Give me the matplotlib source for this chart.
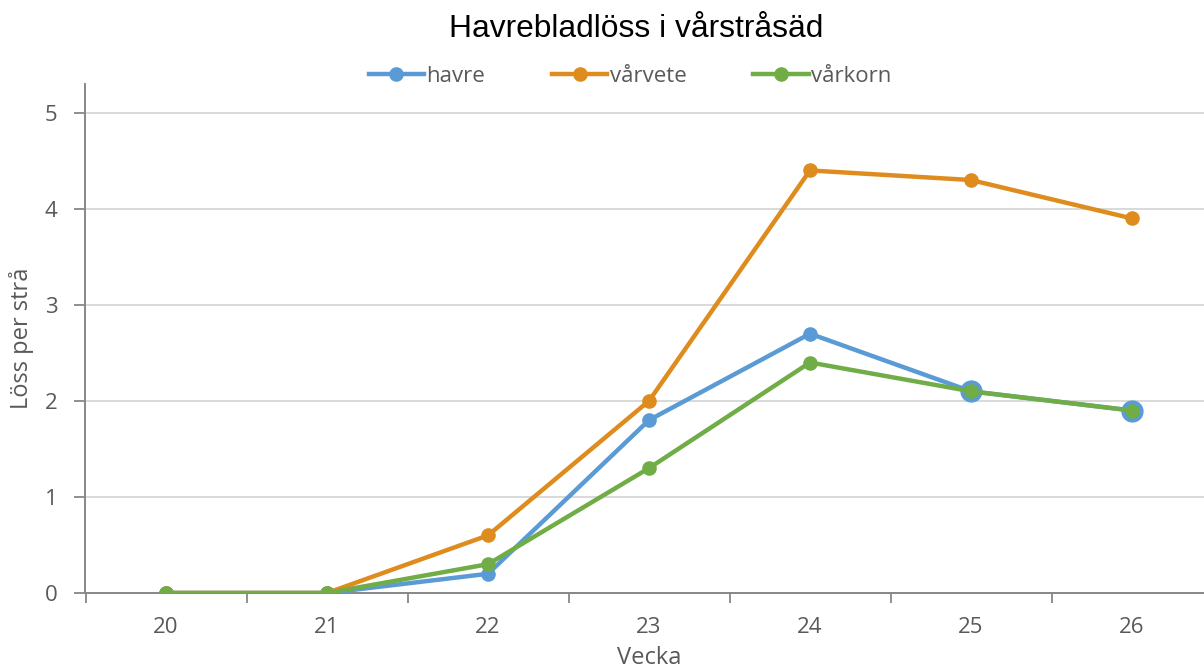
import matplotlib
matplotlib.use("Agg")
import matplotlib.pyplot as plt
import numpy as np

# data
weeks = ["20", "21", "22", "23", "24", "25", "26"]
havre = [0, 0, 0.2, 1.8, 2.7, 2.1, 1.9]
varvete = [0, 0, 0.6, 2.0, 4.4, 4.3, 3.9]
varkorn = [0, 0, 0.3, 1.3, 2.4, 2.1, 1.9]

blue = "#5B9BD5"
orange = "#DF8C1E"
green = "#70AD47"
grey_txt = "#595959"

plt.rcParams['font.family'] = ['Open Sans', 'DejaVu Sans']

fig = plt.figure(figsize=(12.04, 6.72), dpi=100, facecolor="w")
ax = fig.add_axes([85.5 / 1204, 79 / 672, 1127 / 1204, 509 / 672])

x = np.arange(len(weeks))
lw, ms = 3.2, 9.5
ax.plot(x, havre, '-o', c=blue, lw=lw, ms=ms, label='havre', zorder=3)
ax.plot(x[5:], havre[5:], 'o', c=blue, ms=15, zorder=3)
ax.plot(x, varvete, '-o', c=orange, lw=lw, ms=ms, label='vårvete', zorder=4)
ax.plot(x, varkorn, '-o', c=green, lw=lw, ms=ms, label='vårkorn', zorder=5)

ax.set_xlim(-0.5, len(weeks) - 0.5)
ax.set_ylim(0, 5.3)
ax.set_yticks(range(6))
ax.set_xticks(x)
ax.set_xticklabels(weeks)
ax.set_xticks(np.arange(-0.5, len(weeks)), minor=True)
ax.tick_params(axis='x', which='major', length=0, pad=17,
               labelsize=16, labelcolor=grey_txt)
ax.tick_params(axis='x', which='minor', length=7, width=1.3, color="#878787")
ax.tick_params(axis='y', length=8, width=1.3, color="#878787", pad=12,
               labelsize=16, labelcolor=grey_txt)

ax.grid(axis='y', color="#D9D9D9", lw=1.4, zorder=0)
ax.set_axisbelow(True)
for s in ['top', 'right']:
    ax.spines[s].set_visible(False)
for s in ['left', 'bottom']:
    ax.spines[s].set_color("#878787")
    ax.spines[s].set_linewidth(1.4)

ax.set_xlabel("Vecka", fontsize=17, color=grey_txt, labelpad=6)
ax.set_ylabel("Löss per strå", fontsize=17, color=grey_txt, labelpad=8)

fig.text(0.528, 1 - 37 / 672, "Havrebladlöss i vårstråsäd", fontsize=22.9,
         family=['Liberation Sans', 'DejaVu Sans'], ha='center', va='baseline')

ax.legend(loc='center', bbox_to_anchor=(0.483, 1.015), ncol=3,
          frameon=False, fontsize=16, handlelength=2.5, columnspacing=3.0,
          handletextpad=0.1, labelcolor=grey_txt)

plt.savefig("out.png", dpi=100, facecolor="w")
